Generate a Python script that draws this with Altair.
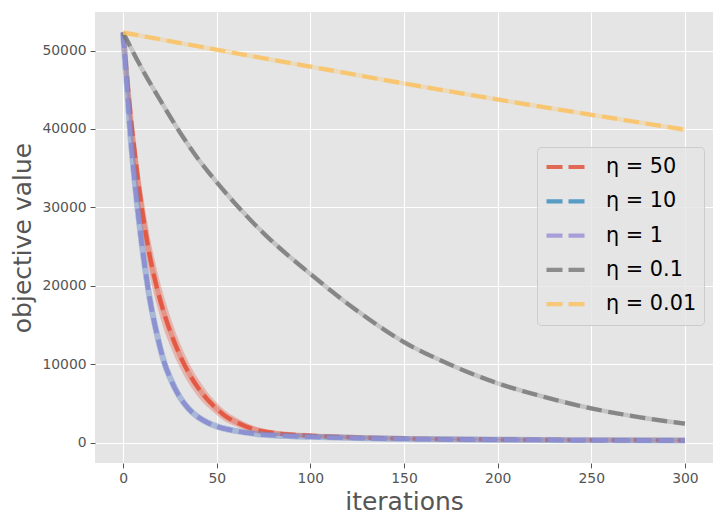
import altair as alt
import pandas as pd

# ---------------- data ----------------
labels = ["η = 50", "η = 10", "η = 1", "η = 0.1", "η = 0.01"]
colors = ["#E24A33", "#348ABD", "#988ED5", "#777777", "#FBC15E"]

it_fast = [0, 2, 4, 6, 8, 10, 12, 14, 16, 18, 20, 22, 25, 30, 35, 40, 45, 50,
           55, 60, 70, 80, 90, 100, 125, 150, 175, 200, 250, 300]

eta50 = [52300, 46800, 41800, 37400, 33400, 29900, 26800, 24100, 21800, 19800,
         18000, 16400, 14300, 11300, 8900, 7000, 5500, 4300, 3300, 2650,
         1680, 1230, 1000, 870, 640, 500, 420, 370, 310, 280]
eta50_spread = [0, 1300, 1900, 2300, 2500, 2600, 2600, 2500, 2400, 2300,
                2200, 2100, 1900, 1600, 1350, 1150, 950, 800, 680, 580,
                440, 330, 260, 210, 140, 110, 90, 80, 70, 60]

eta10 = [52300, 45600, 39000, 33800, 29300, 25300, 21800, 18700, 16100, 13900,
         11900, 10200, 8300, 5900, 4300, 3250, 2550, 2050, 1720, 1480,
         1130, 930, 810, 720, 560, 460, 400, 360, 300, 270]

eta1 = [52300, 45600, 39000, 33800, 29300, 25300, 21800, 18700, 16100, 13900,
        11900, 10200, 8300, 5900, 4300, 3250, 2550, 2050, 1720, 1480,
        1130, 930, 810, 720, 560, 460, 400, 360, 300, 270]

it_slow = [0, 10, 20, 30, 40, 50, 75, 100, 125, 150, 175, 200, 225, 250, 275, 300]
eta01 = [52300, 47700, 43600, 39700, 36200, 33200, 26700, 21500, 16800, 12800,
         9900, 7550, 5800, 4350, 3250, 2400]
eta001 = [52300, 51860, 51420, 50980, 50540, 50100, 49020, 47950, 46870, 45800,
          44770, 43750, 42770, 41800, 40850, 39900]

x_ticks = [0, 50, 100, 150, 200, 250, 300]
y_ticks = [0, 10000, 20000, 30000, 40000, 50000]

# ---------------- tables ----------------
def frame(its, vals, name):
    return pd.DataFrame({"iter": its, "value": vals, "series": name})

red = frame(it_fast, eta50, labels[0])
red["lo"] = [v - s for v, s in zip(eta50, eta50_spread)]
red["hi"] = [v + s for v, s in zip(eta50, eta50_spread)]
series = [
    (red, 0, 5),
    (frame(it_fast, eta10, labels[1]), 1, 6),
    (frame(it_fast, eta1, labels[2]), 2, 6),
    (frame(it_slow, eta01, labels[3]), 3, 4.5),
    (frame(it_slow, eta001, labels[4]), 4, 4.5),
]

x_enc = alt.X("iter:Q", scale=alt.Scale(domain=[-15, 315], nice=False, zero=False),
              axis=alt.Axis(values=x_ticks, title="iterations"))
y_enc = alt.Y("value:Q", scale=alt.Scale(domain=[-2615, 54915], nice=False, zero=False),
              axis=alt.Axis(values=y_ticks, format="d", title="objective value"))

color_scale = alt.Scale(domain=labels, range=colors)
legend = alt.Legend(title=None, orient="none", legendX=442, legendY=135)

layers = []
for df, i, band_w in series:
    base = alt.Chart(df)
    if i == 0:
        layers.append(
            base.mark_area(interpolate="monotone", opacity=0.3, color=colors[i]).encode(
                x=x_enc, y="lo:Q", y2="hi:Q")
        )
    layers.append(
        base.mark_line(interpolate="monotone", opacity=0.3, strokeWidth=band_w,
                       color=colors[i]).encode(x=x_enc, y=y_enc)
    )
    layers.append(
        base.mark_line(interpolate="monotone", opacity=0.8, strokeWidth=4.2,
                       strokeDash=[15.4, 6.7]).encode(
            x=x_enc, y=y_enc,
            color=alt.Color("series:N", scale=color_scale, legend=legend))
    )

chart = alt.layer(*layers).properties(
    width=618, height=451,
    autosize="none",
    padding={"left": 87, "top": 4, "right": 2, "bottom": 55},
).configure(
    font="DejaVu Sans",
).configure_view(
    fill="#E5E5E5", stroke=None,
).configure_axis(
    domain=False,
    grid=True, gridColor="#FFFFFF", gridWidth=1.1,
    tickColor="#555555", tickSize=4.9, tickWidth=1,
    labelColor="#555555", labelFontSize=13.9, labelPadding=4,
    titleColor="#555555", titleFontSize=25, titleFontWeight="normal",
).configure_axisX(
    titlePadding=4,
).configure_axisY(
    titlePadding=6,
).configure_legend(
    symbolType="stroke", symbolStrokeWidth=4.2, symbolSize=1444,
    symbolDash=[16, 6], symbolOpacity=0.8,
    labelFontSize=20.8, labelColor="#000000", labelOffset=19,
    clipHeight=26, rowPadding=8.3, padding=7,
    fillColor="rgba(229,229,229,0.8)", strokeColor="#CCCCCC", cornerRadius=4,
)

chart.save("out.html", embed_options={"renderer": "svg", "actions": False})
